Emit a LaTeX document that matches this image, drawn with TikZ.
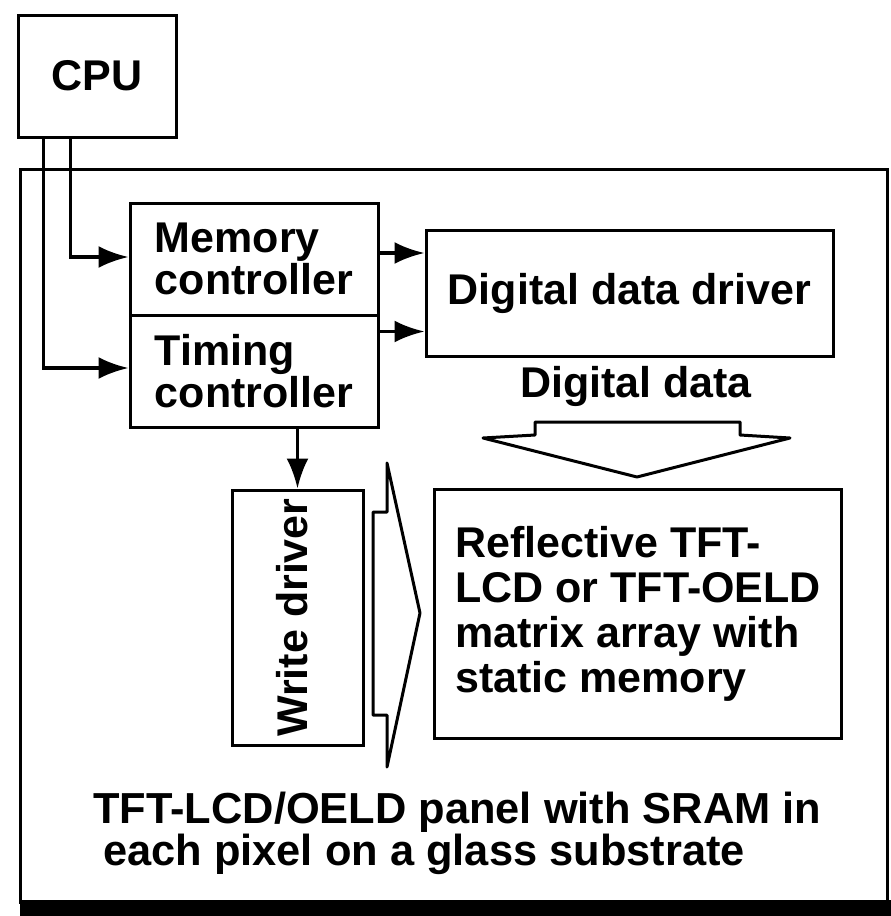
\documentclass[tikz,border=0pt]{standalone}
\usepackage{fontspec}
\setmainfont{Liberation Sans}
\usetikzlibrary{arrows.meta,calc}
\begin{document}
\begin{tikzpicture}[x=1pt,y=-1pt,
  txt/.style={font=\bfseries\fontsize{43}{42}\selectfont},
  box/.style={draw, line width=3pt, inner sep=0pt, align=left, txt},
  lbl/.style={inner sep=0pt, txt},
  arr/.style={line width=3.5pt, -{Latex[length=30pt,width=22pt]}},
  hollow/.style={draw, line width=3pt, line join=round}]
\useasboundingbox (0,0) rectangle (891,916);
% panel
\fill[black] (20,900) rectangle (891,916);
\node[draw, line width=3pt, minimum width=867pt, minimum height=733pt, inner sep=0pt] (panel) at (453.5,535.5) {};
% boxes
\node[box, minimum width=158pt, minimum height=122pt] (cpu) at (97,76) {\raisebox{-3pt}{CPU}};
\node[box, minimum width=248pt, minimum height=112pt] (mem) at (254,259) {Memory\\controller};
\node[box, minimum width=248pt, minimum height=112pt] (tim) at (254,371) {Timing\\controller};
\node[box, minimum width=407pt, minimum height=126pt] (ddd) at (629.5,293) {Digital data driver};
\node[box, minimum width=131pt, minimum height=255pt] (wd) at (297.5,617.5) {};
\node[lbl, xshift=-5pt] (wdt) at (wd.center) {\rotatebox{90}{Write driver}};
\node[box, minimum width=407pt, minimum height=249pt, font=\bfseries\fontsize{43}{45}\selectfont] (mat) at (638,613.5) {Reflective TFT-\\LCD or TFT-OELD\\matrix array with\\static memory};
% labels
\node[lbl, anchor=base] (dd) at (636,397) {Digital data};
\node[lbl, anchor=base west, font=\bfseries\fontsize{43.4}{42}\selectfont] (cap1) at (93,823) {TFT-LCD/OELD panel with SRAM in};
\node[lbl, anchor=base west, font=\bfseries\fontsize{43.4}{42}\selectfont] (cap2) at (103,865) {each pixel on a glass substrate};
% connectors
\draw[arr] ([xshift=54pt]cpu.south west) |- ([yshift=2pt]mem.west);
\draw[arr] ([xshift=27pt]cpu.south west) |- ([yshift=3pt]tim.west);
\coordinate (m1) at ([yshift=6pt]mem.east);
\coordinate (t1) at ([yshift=-18pt]tim.north east);
\draw[arr] (m1) -- (m1 -| ddd.west);
\draw[arr] (t1) -- (t1 -| ddd.west);
\draw[arr] (wd.north |- tim.south) -- (wd.north);
% hollow arrows
\draw[hollow] (535,422) -- (740,422) -- (740,435) -- (790,438) -- (637,477) -- (483,438) -- (535,435) -- cycle;
\draw[hollow] (373,512) -- (387,512) -- (387,463) -- (420,613) -- (387,767) -- (387,715) -- (373,715) -- cycle;
\end{tikzpicture}
\end{document}
